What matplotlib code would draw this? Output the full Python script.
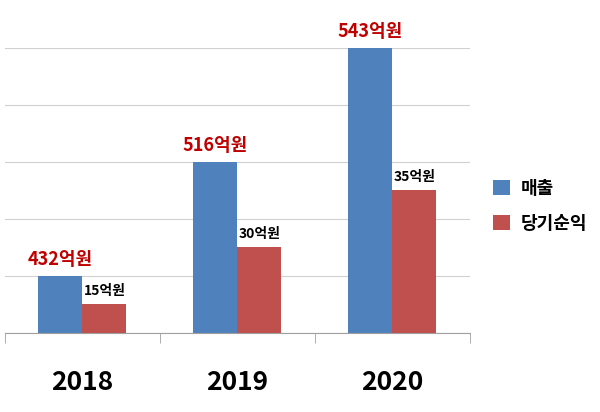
import matplotlib
matplotlib.use("Agg")
import matplotlib.pyplot as plt
import numpy as np

plt.rcParams['font.family'] = ['Noto Sans CJK KR', 'DejaVu Sans']

years = ["2018", "2019", "2020"]
# bar heights as drawn (grid units), labels as printed
sales_height = [1.0, 3.0, 5.0]
profit_height = [0.5, 1.5, 2.5]
sales_labels = ["432억원", "516억원", "543억원"]
profit_labels = ["15억원", "30억원", "35억원"]

fig = plt.figure(figsize=(6, 4.12), dpi=100)
ax = fig.add_axes([0.008, 0.192, 0.775, 0.692])

x = np.arange(len(years))
w = 0.285
b1 = ax.bar(x - w / 2, sales_height, w, color="#4f81bd", label="매출", zorder=2)
b2 = ax.bar(x + w / 2, profit_height, w, color="#c0504d", label="당기순익", zorder=2)

for xi, h, t in zip(x, sales_height, sales_labels):
    ax.text(xi - w / 2, h + 0.12, t, ha="center", va="bottom", color="#c00000",
            fontsize=13, fontweight="bold")
for xi, h, t in zip(x, profit_height, profit_labels):
    ax.text(xi + w / 2, h + 0.12, t, ha="center", va="bottom", color="black",
            fontsize=10, fontweight="bold")

ax.set_xlim(-0.5, 2.5)
ax.set_ylim(0, 5)
ax.set_yticks(np.arange(0, 6))
ax.yaxis.grid(True, color="#d0d0d0", lw=0.8, zorder=0)
ax.tick_params(axis="y", length=0, labelleft=False)
ax.set_xticks(x)
ax.set_xticklabels(years, fontsize=19, fontweight="bold")
ax.tick_params(axis="x", which="major", length=0, pad=26)
ax.set_xticks([-0.5, 0.5, 1.5, 2.5], minor=True)
ax.tick_params(axis="x", which="minor", length=7, color="#a0a0a0")
for s in ["top", "right", "left"]:
    ax.spines[s].set_visible(False)
ax.spines["bottom"].set_color("#a0a0a0")

fig.legend(handles=[b1, b2], loc="center left", bbox_to_anchor=(0.795, 0.5),
           frameon=False, handlelength=0.9, handleheight=0.9, handletextpad=0.6,
           labelspacing=0.9, prop={"weight": "bold", "size": 13})

fig.savefig("out.png", dpi=100)
